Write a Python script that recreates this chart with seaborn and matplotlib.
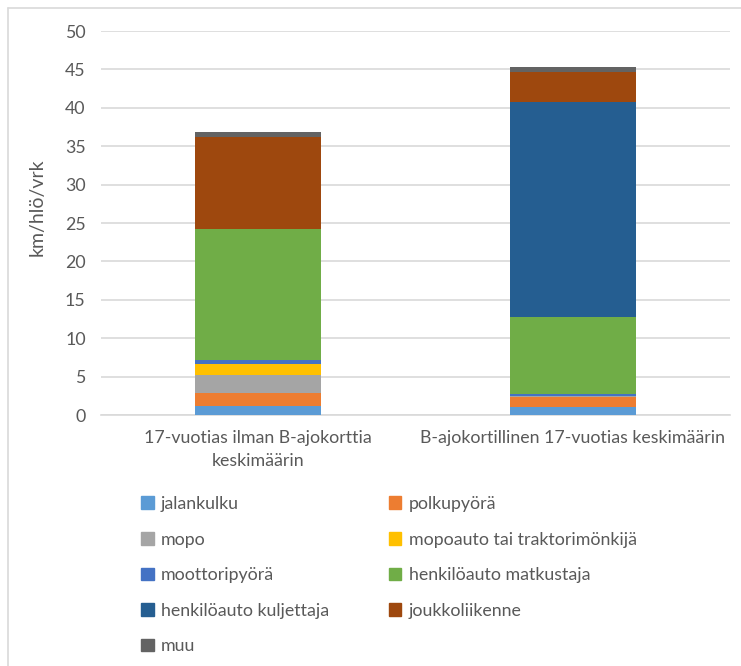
import matplotlib
matplotlib.use("Agg")
import matplotlib.pyplot as plt
import matplotlib.patches as mpatches
from matplotlib.lines import Line2D
import seaborn as sns
import numpy as np
import pandas as pd

categories = ["17-vuotias ilman B-ajokorttia\nkeskimäärin",
              "B-ajokortillinen 17-vuotias keskimäärin"]
series = ["jalankulku", "polkupyörä", "mopo", "mopoauto tai traktorimönkijä",
          "moottoripyörä", "henkilöauto matkustaja", "henkilöauto kuljettaja",
          "joukkoliikenne", "muu"]
jalankulku = [1.2, 1.0]
polkupyora = [1.7, 1.3]
mopo = [2.3, 0.2]
mopoauto = [1.45, 0.0]
moottoripyora = [0.55, 0.2]
hlo_matkustaja = [17.05, 10.05]
hlo_kuljettaja = [0.0, 27.95]
joukkoliikenne = [11.9, 4.0]
muu = [0.65, 0.55]
colors = ["#5B9BD5", "#ED7D31", "#A5A5A5", "#FFC000", "#4472C4",
          "#70AD47", "#255E91", "#9E480E", "#636363"]
yticks = list(range(0, 55, 5))

values = [jalankulku, polkupyora, mopo, mopoauto, moottoripyora,
          hlo_matkustaja, hlo_kuljettaja, joukkoliikenne, muu]
df = pd.DataFrame(np.array(values).T, columns=series)
df["cat"] = categories
cum = df[series].cumsum(axis=1)

sns.set_theme(style="white")
FONT = ["Lato", "DejaVu Sans"]
plt.rcParams["font.family"] = FONT
TXT = "#595959"

fig = plt.figure(figsize=(7.41, 6.66), dpi=100)
ax = fig.add_axes([101/741, 1-415/666, (730-101)/741, (415-31)/666])

for i in range(len(series) - 1, -1, -1):
    d = pd.DataFrame({"cat": categories, "v": cum[series[i]].values})
    sns.barplot(data=d, x="cat", y="v", color=colors[i], width=0.4,
                saturation=1, linewidth=0, ax=ax, zorder=3)

ax.set_xlim(-0.5, 1.5)
ax.set_ylim(0, 50)
ax.set_yticks(yticks)
ax.set_yticklabels([str(t) for t in yticks])
ax.yaxis.grid(True, color="#D9D9D9", linewidth=1.2, zorder=0)
ax.xaxis.grid(False)
for s in ["left", "right", "top"]:
    ax.spines[s].set_visible(False)
ax.spines["bottom"].set_color("#D9D9D9")
ax.spines["bottom"].set_linewidth(1.2)
ax.tick_params(axis="y", length=0, pad=11, labelcolor=TXT, labelsize=12.8)
ax.tick_params(axis="x", length=0, pad=11, labelcolor=TXT, labelsize=12.8)
ax.set_xlabel("")
ax.set_ylabel("km/hlö/vrk", color=TXT, fontsize=14)
ax.yaxis.set_label_coords((46-101)/629, (415-207)/384)
for lab in ax.get_xticklabels():
    lab.set_linespacing(1.5)

# legend, Excel row-wise order in two columns
handles = [mpatches.Patch(color=c, label=s) for s, c in zip(series, colors)]
order = [0, 2, 4, 6, 8, 1, 3, 5, 7]
leg = fig.legend([handles[k] for k in order], [series[k] for k in order],
                 ncol=2, loc="upper left", bbox_to_anchor=(141/741, 1-496/666),
                 frameon=False, fontsize=12.8, handlelength=0.72, handleheight=0.72,
                 handletextpad=0.4, labelspacing=1.1, columnspacing=3.35,
                 borderaxespad=0, borderpad=0)
for t in leg.get_texts():
    t.set_color(TXT)

# chart border (top and left)
fig.add_artist(Line2D([7.5/741, 1], [1-7.5/666, 1-7.5/666], color="#D9D9D9", lw=1.2))
fig.add_artist(Line2D([7.5/741, 7.5/741], [0, 1-7.5/666], color="#D9D9D9", lw=1.2))

fig.savefig("out.png", dpi=100)
